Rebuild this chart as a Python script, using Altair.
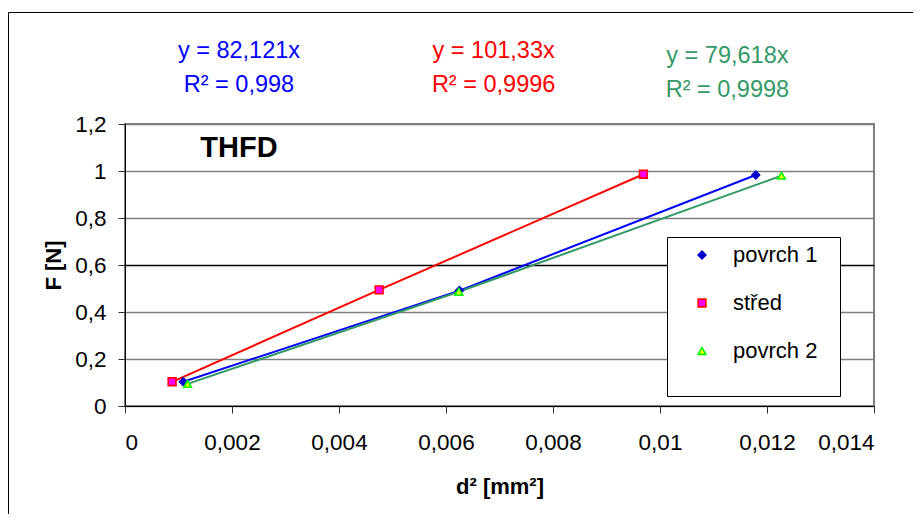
import altair as alt
import pandas as pd

# ---- data ----
series = ["povrch 1", "střed", "povrch 2"]
d2_povrch1 = [0.00109, 0.00625, 0.01179]
F_povrch1 = [0.103, 0.491, 0.983]
d2_stred = [0.00088, 0.00475, 0.00969]
F_stred = [0.103, 0.494, 0.986]
d2_povrch2 = [0.00117, 0.00624, 0.01227]
F_povrch2 = [0.094, 0.486, 0.980]

eq_labels = ["y = 82,121x", "y = 101,33x", "y = 79,618x"]
r2_labels = ["R² = 0,998", "R² = 0,9996", "R² = 0,9998"]

x_ticks = [0, 0.002, 0.004, 0.006, 0.008, 0.01, 0.012, 0.014]
y_ticks = [0, 0.2, 0.4, 0.6, 0.8, 1, 1.2]

# ---- styling ----
FONT = "Liberation Sans"
line_colors = ["#0000FF", "#FF0000", "#339966"]
marker_fill = ["#0000CD", "#FF00FF", "#FFFF00"]
marker_stroke = ["#0000CD", "#FF0000", "#00FF00"]
marker_shape = ["diamond", "square", "triangle-up"]
text_colors = ["#0000FF", "#FF0000", "#339966"]
# annotation anchor positions (data units, above plot area)
ann_x = [0.00213, 0.00689, 0.01126]
ann_y1 = [1.51, 1.51, 1.49]
ann_y2 = [1.365, 1.365, 1.345]

rows = []
for s, xs, ys in zip(series, [d2_povrch1, d2_stred, d2_povrch2], [F_povrch1, F_stred, F_povrch2]):
    for i, (a, b) in enumerate(zip(xs, ys)):
        rows.append({"series": s, "d2": a, "F": b, "order": i})
df = pd.DataFrame(rows)

xscale = alt.Scale(domain=[0, 0.014], nice=False, zero=True)
yscale = alt.Scale(domain=[0, 1.2], nice=False)

x_enc = alt.X("d2:Q", scale=xscale, axis=alt.Axis(
    values=x_ticks, format=".3~f", labelExpr="replace(datum.label, '.', ',')",
    title="d² [mm²]", grid=False, tickSize=7, labelPadding=18,
    titleY=80, titleX=374.5, titleBaseline="middle", titleAlign="center",
))
y_enc = alt.Y("F:Q", scale=yscale, axis=alt.Axis(
    values=y_ticks, format=".1~f", labelExpr="replace(datum.label, '.', ',')",
    title="F [N]", grid=True, tickSize=7, labelPadding=12,
    gridColor=alt.condition("datum.value == 0.6", alt.value("#000000"), alt.value("#808080")),
    titleX=-72, titleY=141, titleAngle=270, titleBaseline="middle", titleAlign="center",
))

# transparent spacer title at the bottom gives the legend box its Excel-like size
leg = alt.Legend(
    title="M" * 19, titleOrient="bottom", titleFontSize=10, titlePadding=17,
    titleFont=FONT, titleColor="rgba(0,0,0,0)", titleLimit=400,
    orient="none", legendX=542, legendY=113,
    fillColor="white", strokeColor="black", padding=7, zindex=2,
    labelFont=FONT, labelFontSize=22, labelColor="black", labelOffset=20,
    symbolSize=60, symbolStrokeWidth=1.6, symbolOffset=17, rowPadding=26,
)

frame = alt.Chart(pd.DataFrame({"a": [0]})).mark_rect(
    fillOpacity=0, stroke="black", strokeWidth=1
).encode(x=alt.value(-116.5), x2=alt.value(820), y=alt.value(-111.5), y2=alt.value(420))

line_layers = []
for s, c in zip(series, line_colors):
    line_layers.append(
        alt.Chart(df).transform_filter(alt.datum.series == s).mark_line(strokeWidth=2, color=c).encode(
            x=x_enc, y=y_enc, order="order:Q",
        )
    )

points = alt.Chart(df).mark_point(filled=False, size=60, strokeWidth=1.6, opacity=1).encode(
    x=x_enc, y=y_enc,
    shape=alt.Shape("series:N", sort=series, scale=alt.Scale(domain=series, range=marker_shape), legend=leg),
    fill=alt.Fill("series:N", sort=series, scale=alt.Scale(domain=series, range=marker_fill), legend=leg),
    stroke=alt.Stroke("series:N", sort=series, scale=alt.Scale(domain=series, range=marker_stroke), legend=leg),
)

text_layers = []
for s, c, ex, ey1, ey2, eq, r2 in zip(series, text_colors, ann_x, ann_y1, ann_y2, eq_labels, r2_labels):
    tdf = pd.DataFrame({"x": [ex, ex], "y": [ey1, ey2], "t": [eq, r2]})
    text_layers.append(
        alt.Chart(tdf).mark_text(font=FONT, fontSize=23.5, align="center", baseline="middle", color=c).encode(
            x=alt.X("x:Q", scale=xscale), y=alt.Y("y:Q", scale=yscale), text="t:N",
        )
    )

thfd = alt.Chart(pd.DataFrame({"t": ["THFD"], "x": [0.00213], "y": [1.096]})).mark_text(
    font=FONT, fontSize=29, fontWeight="bold", align="center", baseline="middle", color="black"
).encode(x=alt.X("x:Q", scale=xscale), y=alt.Y("y:Q", scale=yscale), text="t:N")

chart = alt.layer(frame, *line_layers, points, *text_layers, thfd).properties(
    width=749, height=282,
    autosize=alt.AutoSizeParams(type="none"),
    padding={"left": 117, "top": 116, "right": 39, "bottom": 108},
    background="white",
).configure_view(
    stroke="#808080", strokeWidth=2,
).configure_axis(
    labelFont=FONT, labelFontSize=22.5, labelColor="black",
    titleFont=FONT, titleFontSize=22, titleFontWeight="bold", titleColor="black",
    domainColor="black", domainWidth=1, tickColor="#303030", tickWidth=1,
    gridWidth=1.5,
)

chart.save("out.html", embed_options={"renderer": "svg", "actions": False})
